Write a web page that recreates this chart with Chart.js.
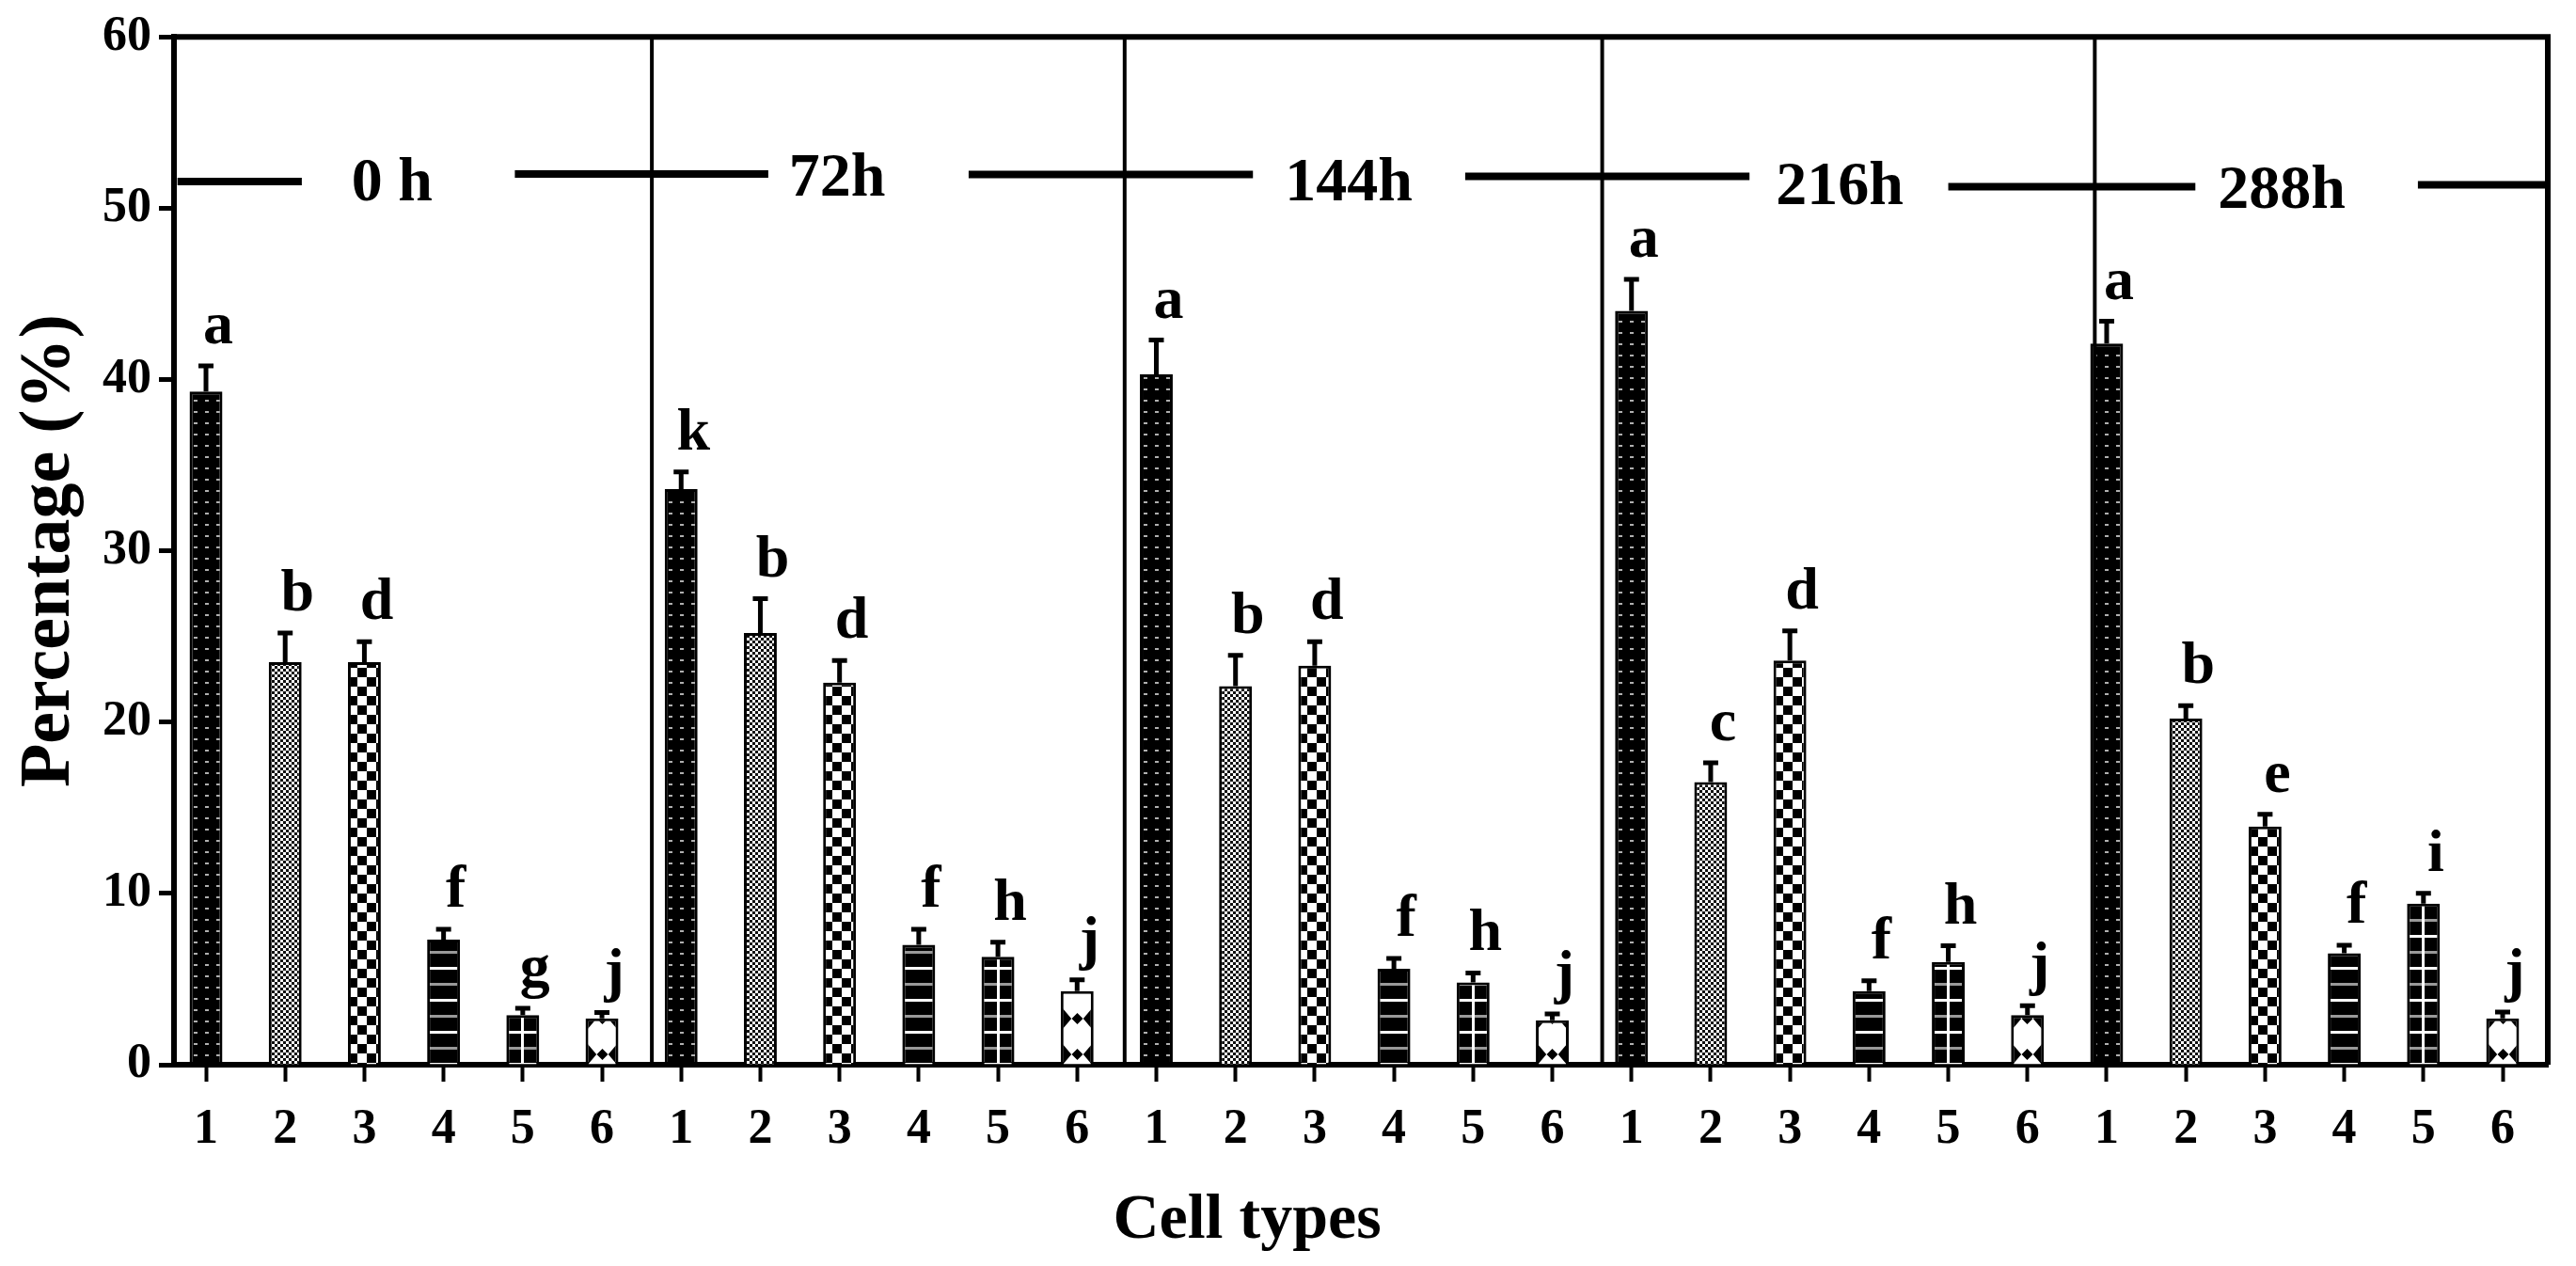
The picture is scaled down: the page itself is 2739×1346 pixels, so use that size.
<!DOCTYPE html>
<html>
<head>
<meta charset="utf-8">
<script src="https://cdn.jsdelivr.net/npm/chart.js@4.4.1/dist/chart.umd.min.js"></script>
<style>
  html, body { margin: 0; padding: 0; background: #fff; }
  #wrap { width: 2739px; height: 1346px; }
</style>
</head>
<body>
<div id="wrap"><canvas id="cellChart" width="2739" height="1346"></canvas></div>
<script>
// time points and cell types
const timePoints = ['0 h', '72h', '144h', '216h', '288h'];
const cellTypes = ['1', '2', '3', '4', '5', '6'];

// mean percentage of each cell type, per time point
const pct0h   = [39.3, 23.5, 23.5, 7.3, 2.9, 2.7];
const pct72h  = [33.6, 25.2, 22.3, 7.0, 6.3, 4.3];
const pct144h = [40.3, 22.1, 23.3, 5.6, 4.8, 2.6];
const pct216h = [44.0, 16.5, 23.6, 4.3, 6.0, 2.9];
const pct288h = [42.1, 20.2, 13.9, 6.5, 9.4, 2.7];

// upper error bars (SD)
const sd0h   = [1.5, 1.7, 1.2, 0.6, 0.4, 0.35];
const sd72h  = [1.0, 2.0, 1.3, 0.9, 0.85, 0.65];
const sd144h = [2.0, 1.8, 1.4, 0.6, 0.56, 0.37];
const sd216h = [1.84, 1.13, 1.73, 0.6, 0.94, 0.54];
const sd288h = [1.3, 0.76, 0.72, 0.47, 0.6, 0.38];

// significance letters
const sig0h   = ['a', 'b', 'd', 'f', 'g', 'j'];
const sig72h  = ['k', 'b', 'd', 'f', 'h', 'j'];
const sig144h = ['a', 'b', 'd', 'f', 'h', 'j'];
const sig216h = ['a', 'c', 'd', 'f', 'h', 'j'];
const sig288h = ['a', 'b', 'e', 'f', 'i', 'j'];

const yTicks = [0, 10, 20, 30, 40, 50, 60];

// group decorations (x in bar units, y in %)
const separatorsX = [6.63, 12.6, 18.63, 24.85];
const bracketSegs = [[0.64, 2.21, 51.56], [4.9, 8.1, 52.0], [10.63, 14.22, 51.97],
                     [16.9, 20.49, 51.86], [23.0, 26.12, 51.26], [28.93, 30.57, 51.37]];
const timeLabelPos = [[3.35, 50.45], [8.97, 50.75], [15.43, 50.45], [21.63, 50.25], [27.21, 50.0]];

const means = [].concat(pct0h, pct72h, pct144h, pct216h, pct288h);
const sds = [].concat(sd0h, sd72h, sd144h, sd216h, sd288h);
const letters = [].concat(sig0h, sig72h, sig144h, sig216h, sig288h);
const points = means.map((v, i) => ({ x: i + 1, y: v }));

const FONT = "'Liberation Serif', 'Times New Roman', serif";

// pattern tiles for the six cell types
function makeTile(w, h, draw) {
  const c = document.createElement('canvas');
  c.width = w; c.height = h;
  draw(c.getContext('2d'), w, h);
  return c;
}
const tiles = [
  makeTile(12, 12, (g) => {
    g.fillStyle = '#000'; g.fillRect(0, 0, 12, 12);
    g.fillStyle = '#b0b0b0'; g.fillRect(4, 5, 4, 2);
  }),
  makeTile(6, 6, (g) => {
    g.fillStyle = '#fff'; g.fillRect(0, 0, 6, 6);
    g.fillStyle = '#111'; g.fillRect(0, 0, 3, 3); g.fillRect(3, 3, 3, 3);
  }),
  makeTile(20, 20, (g) => {
    g.fillStyle = '#fff'; g.fillRect(0, 0, 20, 20);
    g.fillStyle = '#000'; g.fillRect(0, 0, 10, 10); g.fillRect(10, 10, 10, 10);
  }),
  makeTile(8, 34, (g) => {
    g.fillStyle = '#000'; g.fillRect(0, 0, 8, 34);
    g.fillStyle = '#fff'; g.fillRect(0, 8, 8, 3);
    g.fillStyle = '#999'; g.fillRect(0, 25, 8, 3);
  }),
  makeTile(35, 34, (g) => {
    g.fillStyle = '#000'; g.fillRect(0, 0, 35, 34);
    g.fillStyle = '#fff'; g.fillRect(0, 8, 35, 3);
    g.fillStyle = '#999'; g.fillRect(0, 25, 35, 3);
    g.fillStyle = '#fff'; g.fillRect(16, 0, 3, 34);
  }),
  makeTile(35, 38, (g, w, h) => {
    g.fillStyle = '#fff'; g.fillRect(0, 0, w, h);
    g.fillStyle = '#000';
    g.beginPath(); g.moveTo(0, h * 0.15); g.lineTo(w * 0.32, h * 0.5); g.lineTo(0, h * 0.85); g.fill();
    g.beginPath(); g.moveTo(w, h * 0.15); g.lineTo(w * 0.68, h * 0.5); g.lineTo(w, h * 0.85); g.fill();
    g.beginPath(); g.moveTo(w / 2, h * 0.5 - 6); g.lineTo(w / 2 + 6, h * 0.5); g.lineTo(w / 2, h * 0.5 + 6); g.lineTo(w / 2 - 6, h * 0.5); g.fill();
  })
];

const ctx = document.getElementById('cellChart').getContext('2d');
const barFills = points.map((p, i) => ctx.createPattern(tiles[i % 6], 'repeat'));

const annotate = {
  id: 'annotate',
  beforeDatasetsDraw(chart) {
    // line each bar's pattern up with its own left edge
    chart.getDatasetMeta(0).data.forEach((bar, i) => {
      const p = barFills[i];
      if (p && p.setTransform) p.setTransform(new DOMMatrix().translate(Math.round(bar.x - bar.width / 2), 0));
    });
  },
  afterDatasetsDraw(chart) {
    const c = chart.ctx, xs = chart.scales.x, ys = chart.scales.y, area = chart.chartArea;
    const bars = chart.getDatasetMeta(0).data;
    c.save();
    c.strokeStyle = '#000';
    c.fillStyle = '#000';

    // error bars
    bars.forEach((bar, i) => {
      const yTop = ys.getPixelForValue(means[i] + sds[i]);
      c.lineWidth = 5;
      c.beginPath();
      c.moveTo(bar.x, bar.y); c.lineTo(bar.x, yTop);
      c.moveTo(bar.x - 8, yTop); c.lineTo(bar.x + 8, yTop);
      c.stroke();
    });

    // letters
    c.font = 'bold 64px ' + FONT;
    c.textAlign = 'center';
    c.textBaseline = 'alphabetic';
    bars.forEach((bar, i) => {
      const yTop = ys.getPixelForValue(means[i] + sds[i]);
      c.fillText(letters[i], bar.x + 13, yTop - 24);
    });

    // group separators
    c.lineWidth = 4;
    separatorsX.forEach(v => {
      const x = xs.getPixelForValue(v);
      c.beginPath(); c.moveTo(x, area.top); c.lineTo(x, area.bottom); c.stroke();
    });

    // time-point brackets and labels
    c.lineWidth = 8;
    bracketSegs.forEach(s => {
      const y = ys.getPixelForValue(s[2]);
      c.beginPath(); c.moveTo(xs.getPixelForValue(s[0]), y); c.lineTo(xs.getPixelForValue(s[1]), y); c.stroke();
    });
    c.font = 'bold 66px ' + FONT;
    timePoints.forEach((t, i) => {
      c.fillText(t, xs.getPixelForValue(timeLabelPos[i][0]), ys.getPixelForValue(timeLabelPos[i][1]));
    });

    // top and right frame
    c.lineWidth = 6;
    c.beginPath();
    c.moveTo(area.left - 3, area.top); c.lineTo(area.right, area.top); c.lineTo(area.right, area.bottom);
    c.stroke();

    // x axis title
    c.font = 'bold 68px ' + FONT;
    c.fillText('Cell types', 1326, 1316);
    c.restore();
  }
};

new Chart(ctx, {
  type: 'bar',
  data: {
    datasets: [{
      data: points,
      backgroundColor: barFills,
      borderColor: '#000',
      borderWidth: 3,
      borderSkipped: 'bottom',
      barPercentage: 0.415,
      categoryPercentage: 1
    }]
  },
  options: {
    responsive: false,
    animation: false,
    layout: { padding: { top: 34, right: 30, left: 0, bottom: 0 } },
    plugins: { legend: { display: false }, tooltip: { enabled: false } },
    scales: {
      x: {
        type: 'linear',
        offset: false,
        min: 0.596,
        max: 30.57,
        afterBuildTicks: s => { s.ticks = points.map(p => ({ value: p.x })); },
        afterFit: s => { s.height = 214; },
        ticks: {
          callback: v => cellTypes[(Math.round(v) - 1) % 6],
          autoSkip: false, maxRotation: 0,
          font: { family: FONT, size: 52, weight: 'bold' },
          color: '#000',
          padding: 20
        },
        grid: { offset: false, drawOnChartArea: false, drawTicks: true, tickLength: 18, tickWidth: 4, tickColor: '#000' },
        border: { display: true, color: '#000', width: 6 }
      },
      y: {
        min: 0,
        max: 60,
        afterBuildTicks: s => { s.ticks = yTicks.map(v => ({ value: v })); },
        afterFit: s => { s.width = 185; },
        ticks: {
          font: { family: FONT, size: 52, weight: 'bold' },
          color: '#000',
          padding: 8
        },
        grid: { drawOnChartArea: false, drawTicks: true, tickLength: 16, tickWidth: 5, tickColor: '#000' },
        border: { display: true, color: '#000', width: 6 },
        title: {
          display: true,
          text: 'Percentage (%)',
          font: { family: FONT, size: 76, weight: 'bold' },
          color: '#000',
          padding: { top: 8, bottom: 0 }
        }
      }
    }
  },
  plugins: [annotate]
});
</script>
</body>
</html>
